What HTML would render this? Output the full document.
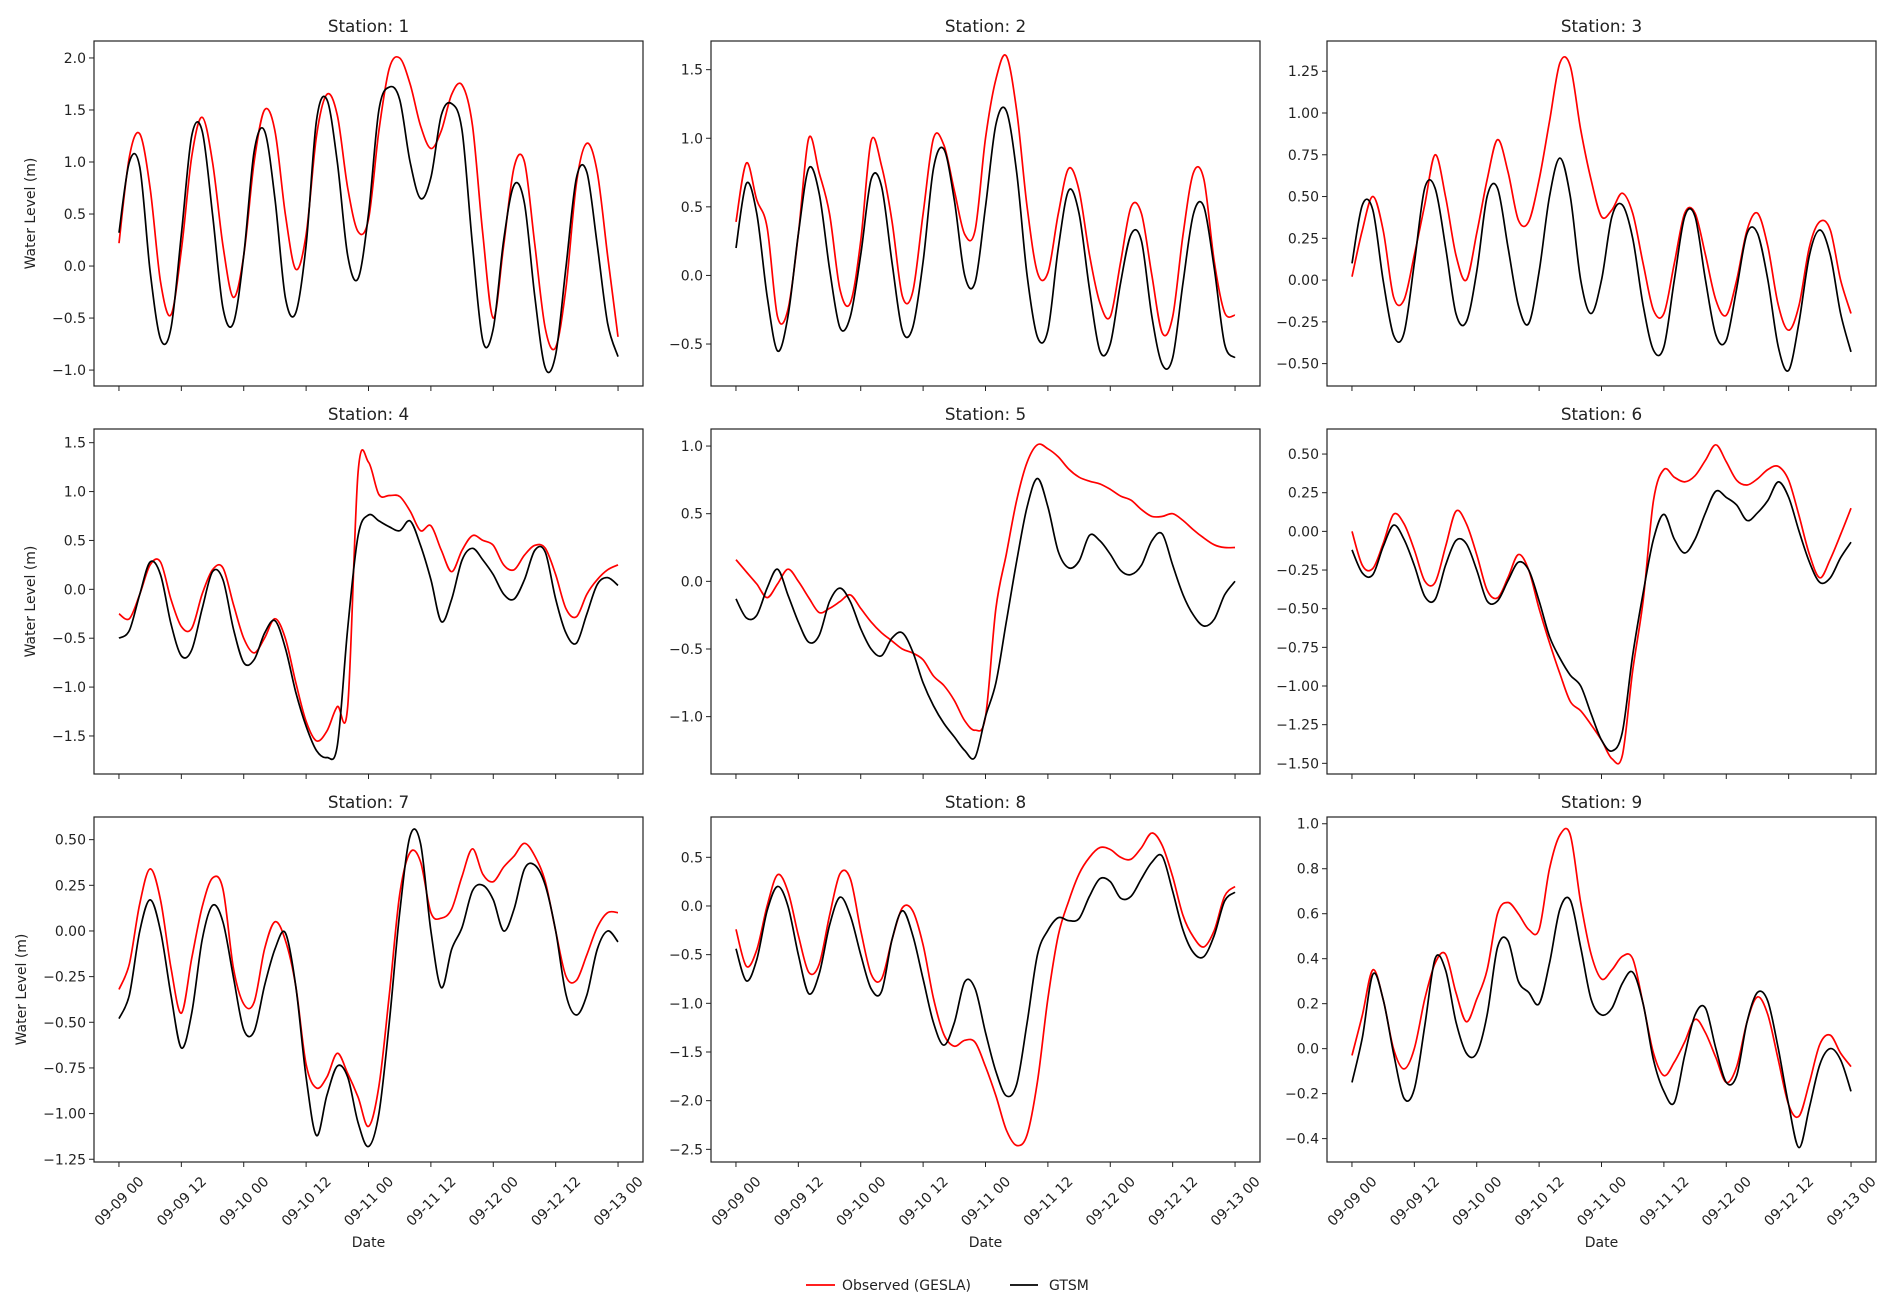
<!DOCTYPE html>
<html>
<head>
<meta charset="utf-8">
<style>
html,body{margin:0;padding:0;background:#fff;}
svg{display:block;}
text{font-family:"DejaVu Sans","Liberation Sans",sans-serif;fill:#222;}
</style>
</head>
<body>
<svg id="fig" width="1892" height="1312" viewBox="0 0 1892 1312" xmlns="http://www.w3.org/2000/svg">
  <rect x="0" y="0" width="1892" height="1312" fill="#fff"/>
  <g>
    <line x1="806" y1="1285" x2="835" y2="1285" stroke="#ff0000" stroke-width="1.8"/>
    <text x="842" y="1290" font-size="14">Observed (GESLA)</text>
    <line x1="1010" y1="1285" x2="1038" y2="1285" stroke="#000" stroke-width="1.8"/>
    <text x="1049" y="1290" font-size="14">GTSM</text>
  </g>
</svg>
<script>
const hours = [0,2,4,6,8,10,12,14,16,18,20,22,24,26,28,30,32,34,36,38,40,42,44,46,48,50,52,54,56,58,60,62,64,66,68,70,72,74,76,78,80,82,84,86,88,90,92,94,96];
const xTickHours = [0,12,24,36,48,60,72,84,96];
const xTickLabels = ["09-09 00","09-09 12","09-10 00","09-10 12","09-11 00","09-11 12","09-12 00","09-12 12","09-13 00"];

const obs1 = [0.22,1.05,1.27,0.75,-0.15,-0.47,0.15,1.05,1.43,1.0,0.2,-0.3,0.1,1.0,1.5,1.3,0.5,-0.03,0.3,1.25,1.65,1.45,0.75,0.33,0.45,1.3,1.9,2.0,1.75,1.35,1.13,1.3,1.65,1.74,1.35,0.3,-0.5,0.2,0.95,1.0,0.2,-0.6,-0.78,-0.2,0.8,1.18,0.9,0.1,-0.68];
const gtsm1 = [0.32,1.0,0.95,-0.05,-0.7,-0.6,0.3,1.25,1.3,0.5,-0.4,-0.55,0.1,1.1,1.3,0.65,-0.3,-0.45,0.2,1.4,1.6,1.0,0.1,-0.12,0.5,1.5,1.72,1.6,1.0,0.65,0.85,1.45,1.56,1.3,0.2,-0.72,-0.6,0.25,0.78,0.6,-0.3,-0.98,-0.85,0.0,0.85,0.9,0.2,-0.55,-0.87];
const obs2 = [0.39,0.82,0.55,0.35,-0.3,-0.25,0.3,1.0,0.75,0.45,-0.1,-0.2,0.25,0.98,0.8,0.4,-0.15,-0.12,0.45,1.0,0.95,0.62,0.3,0.33,1.0,1.43,1.6,1.2,0.5,0.02,0.02,0.45,0.78,0.62,0.15,-0.2,-0.3,0.1,0.5,0.45,0.0,-0.42,-0.3,0.3,0.75,0.7,0.1,-0.27,-0.29];
const gtsm2 = [0.2,0.67,0.45,-0.15,-0.55,-0.3,0.3,0.78,0.6,0.05,-0.38,-0.3,0.15,0.7,0.65,0.1,-0.4,-0.38,0.1,0.78,0.92,0.55,0.0,-0.05,0.5,1.1,1.2,0.75,0.0,-0.45,-0.4,0.2,0.62,0.45,-0.1,-0.55,-0.5,-0.05,0.3,0.25,-0.3,-0.65,-0.6,-0.05,0.45,0.5,0.05,-0.5,-0.6];
const obs3 = [0.02,0.3,0.5,0.3,-0.1,-0.12,0.15,0.45,0.75,0.5,0.15,0.0,0.28,0.6,0.84,0.65,0.36,0.35,0.6,0.95,1.3,1.28,0.9,0.6,0.38,0.42,0.52,0.4,0.1,-0.18,-0.2,0.1,0.4,0.4,0.15,-0.12,-0.21,0.0,0.3,0.4,0.2,-0.15,-0.3,-0.15,0.2,0.35,0.3,0.0,-0.2];
const gtsm3 = [0.1,0.45,0.42,0.0,-0.33,-0.32,0.1,0.55,0.55,0.2,-0.2,-0.25,0.05,0.5,0.55,0.2,-0.15,-0.26,0.05,0.5,0.73,0.5,0.0,-0.2,0.0,0.38,0.45,0.25,-0.15,-0.42,-0.4,0.0,0.38,0.38,0.0,-0.33,-0.36,-0.05,0.28,0.28,0.0,-0.4,-0.54,-0.25,0.15,0.3,0.15,-0.2,-0.43];
const obs4 = [-0.25,-0.3,-0.05,0.25,0.28,-0.1,-0.38,-0.4,-0.05,0.2,0.22,-0.15,-0.5,-0.65,-0.5,-0.3,-0.5,-0.95,-1.35,-1.55,-1.45,-1.2,-1.2,1.2,1.3,0.97,0.96,0.95,0.8,0.6,0.65,0.4,0.18,0.4,0.55,0.5,0.45,0.25,0.2,0.35,0.45,0.42,0.15,-0.2,-0.28,-0.05,0.1,0.2,0.25];
const gtsm4 = [-0.5,-0.42,-0.05,0.28,0.15,-0.35,-0.68,-0.62,-0.2,0.18,0.1,-0.4,-0.75,-0.72,-0.45,-0.32,-0.6,-1.05,-1.4,-1.65,-1.72,-1.6,-0.4,0.55,0.76,0.7,0.64,0.6,0.7,0.45,0.1,-0.33,-0.1,0.3,0.42,0.3,0.15,-0.05,-0.1,0.1,0.4,0.38,-0.1,-0.45,-0.55,-0.25,0.05,0.12,0.04];
const obs5 = [0.16,0.07,-0.02,-0.12,-0.02,0.09,0.0,-0.12,-0.23,-0.2,-0.15,-0.1,-0.2,-0.3,-0.38,-0.44,-0.5,-0.53,-0.58,-0.7,-0.77,-0.88,-1.03,-1.1,-1.0,-0.2,0.2,0.6,0.88,1.01,0.98,0.92,0.83,0.77,0.74,0.72,0.68,0.63,0.6,0.53,0.48,0.48,0.5,0.45,0.38,0.32,0.27,0.25,0.25];
const gtsm5 = [-0.13,-0.27,-0.25,-0.05,0.09,-0.1,-0.3,-0.45,-0.4,-0.15,-0.05,-0.15,-0.35,-0.5,-0.55,-0.42,-0.38,-0.52,-0.75,-0.92,-1.05,-1.15,-1.25,-1.3,-1.0,-0.75,-0.3,0.15,0.55,0.76,0.55,0.22,0.1,0.15,0.34,0.3,0.2,0.08,0.05,0.12,0.3,0.35,0.12,-0.1,-0.25,-0.33,-0.28,-0.1,0.0];
const obs6 = [0.0,-0.22,-0.24,-0.08,0.11,0.05,-0.12,-0.32,-0.33,-0.1,0.13,0.05,-0.15,-0.38,-0.43,-0.3,-0.15,-0.25,-0.5,-0.72,-0.92,-1.1,-1.16,-1.25,-1.35,-1.47,-1.45,-0.9,-0.45,0.2,0.4,0.35,0.32,0.36,0.46,0.56,0.45,0.33,0.3,0.34,0.4,0.42,0.33,0.1,-0.15,-0.3,-0.18,-0.02,0.15];
const gtsm6 = [-0.12,-0.27,-0.28,-0.1,0.04,-0.05,-0.22,-0.42,-0.44,-0.22,-0.06,-0.08,-0.25,-0.45,-0.45,-0.32,-0.2,-0.25,-0.45,-0.68,-0.82,-0.93,-1.0,-1.18,-1.35,-1.42,-1.3,-0.8,-0.4,-0.05,0.11,-0.05,-0.14,-0.05,0.12,0.26,0.22,0.17,0.07,0.12,0.2,0.32,0.22,0.0,-0.2,-0.33,-0.3,-0.17,-0.07];
const obs7 = [-0.32,-0.18,0.15,0.34,0.17,-0.2,-0.45,-0.15,0.13,0.29,0.23,-0.2,-0.4,-0.39,-0.1,0.05,-0.05,-0.3,-0.73,-0.86,-0.8,-0.67,-0.78,-0.91,-1.07,-0.85,-0.35,0.2,0.43,0.38,0.1,0.07,0.12,0.3,0.45,0.31,0.27,0.35,0.41,0.48,0.41,0.27,0.0,-0.25,-0.27,-0.13,0.02,0.1,0.1];
const gtsm7 = [-0.48,-0.35,0.0,0.17,0.0,-0.35,-0.64,-0.45,-0.05,0.14,0.05,-0.25,-0.54,-0.55,-0.3,-0.1,-0.01,-0.3,-0.8,-1.12,-0.9,-0.74,-0.8,-1.05,-1.18,-1.0,-0.5,0.1,0.52,0.48,0.0,-0.31,-0.1,0.02,0.22,0.25,0.17,0.0,0.12,0.34,0.36,0.25,0.0,-0.35,-0.46,-0.35,-0.1,0.0,-0.06];
const obs8 = [-0.24,-0.62,-0.45,0.0,0.32,0.15,-0.3,-0.68,-0.6,-0.1,0.33,0.28,-0.25,-0.7,-0.75,-0.35,-0.02,-0.05,-0.4,-0.95,-1.32,-1.44,-1.38,-1.4,-1.65,-1.95,-2.3,-2.46,-2.35,-1.8,-0.95,-0.3,0.05,0.33,0.5,0.6,0.58,0.5,0.48,0.6,0.75,0.62,0.3,-0.1,-0.32,-0.42,-0.25,0.1,0.2];
const gtsm8 = [-0.44,-0.77,-0.55,-0.05,0.2,0.0,-0.5,-0.9,-0.7,-0.2,0.09,-0.1,-0.5,-0.85,-0.88,-0.35,-0.05,-0.3,-0.75,-1.2,-1.43,-1.2,-0.78,-0.85,-1.3,-1.7,-1.95,-1.83,-1.2,-0.5,-0.25,-0.12,-0.15,-0.13,0.1,0.28,0.25,0.08,0.1,0.28,0.45,0.51,0.15,-0.25,-0.48,-0.52,-0.3,0.05,0.14];
const obs9 = [-0.03,0.15,0.35,0.22,0.0,-0.09,0.0,0.22,0.38,0.42,0.25,0.12,0.22,0.35,0.6,0.65,0.6,0.53,0.53,0.8,0.95,0.95,0.65,0.42,0.31,0.35,0.41,0.4,0.2,-0.02,-0.12,-0.06,0.03,0.13,0.07,-0.04,-0.15,-0.08,0.12,0.23,0.15,-0.05,-0.25,-0.3,-0.15,0.02,0.06,-0.02,-0.08];
const gtsm9 = [-0.15,0.05,0.33,0.22,-0.02,-0.22,-0.18,0.1,0.4,0.35,0.12,-0.02,-0.02,0.15,0.45,0.48,0.3,0.25,0.2,0.38,0.62,0.66,0.45,0.22,0.15,0.18,0.29,0.34,0.2,-0.05,-0.19,-0.24,-0.03,0.15,0.18,0.0,-0.15,-0.12,0.12,0.25,0.21,0.0,-0.25,-0.44,-0.26,-0.07,0.0,-0.05,-0.19];

const yTicks1 = [-1.0,-0.5,0.0,0.5,1.0,1.5,2.0];
const yTicks2 = [-0.5,0.0,0.5,1.0,1.5];
const yTicks3 = [-0.5,-0.25,0.0,0.25,0.5,0.75,1.0,1.25];
const yTicks4 = [-1.5,-1.0,-0.5,0.0,0.5,1.0,1.5];
const yTicks5 = [-1.0,-0.5,0.0,0.5,1.0];
const yTicks6 = [-1.5,-1.25,-1.0,-0.75,-0.5,-0.25,0.0,0.25,0.5];
const yTicks7 = [-1.25,-1.0,-0.75,-0.5,-0.25,0.0,0.25,0.5];
const yTicks8 = [-2.5,-2.0,-1.5,-1.0,-0.5,0.0,0.5];
const yTicks9 = [-0.4,-0.2,0.0,0.2,0.4,0.6,0.8,1.0];

const panels = [
  {title:"Station: 1", obs:obs1, gtsm:gtsm1, ymin:-1.153, ymax:2.163, ticks:yTicks1, dec:1},
  {title:"Station: 2", obs:obs2, gtsm:gtsm2, ymin:-0.806, ymax:1.709, ticks:yTicks2, dec:1},
  {title:"Station: 3", obs:obs3, gtsm:gtsm3, ymin:-0.634, ymax:1.431, ticks:yTicks3, dec:2},
  {title:"Station: 4", obs:obs4, gtsm:gtsm4, ymin:-1.889, ymax:1.64, ticks:yTicks4, dec:1},
  {title:"Station: 5", obs:obs5, gtsm:gtsm5, ymin:-1.424, ymax:1.126, ticks:yTicks5, dec:1},
  {title:"Station: 6", obs:obs6, gtsm:gtsm6, ymin:-1.569, ymax:0.662, ticks:yTicks6, dec:2},
  {title:"Station: 7", obs:obs7, gtsm:gtsm7, ymin:-1.265, ymax:0.624, ticks:yTicks7, dec:2},
  {title:"Station: 8", obs:obs8, gtsm:gtsm8, ymin:-2.63, ymax:0.914, ticks:yTicks8, dec:1},
  {title:"Station: 9", obs:obs9, gtsm:gtsm9, ymin:-0.504, ymax:1.03, ticks:yTicks9, dec:1}
];

const NS = "http://www.w3.org/2000/svg";
const svg = document.getElementById("fig");
const colLeft = [94, 711, 1327];
const rowTop = [41, 429, 817];
const W = 549, H = 345;
const XMIN = -4.8, XMAX = 100.8;

function el(tag, attrs, parent) {
  const e = document.createElementNS(NS, tag);
  for (const k in attrs) e.setAttribute(k, attrs[k]);
  parent.appendChild(e);
  return e;
}
function fmt(v, d) {
  const s = Math.abs(v).toFixed(d);
  return (v < 0 ? "\u2212" : "") + s;
}
function smoothPath(pts) {
  let d = "M" + pts[0][0].toFixed(1) + "," + pts[0][1].toFixed(1);
  for (let i = 0; i < pts.length - 1; i++) {
    const p0 = pts[Math.max(0, i - 1)], p1 = pts[i], p2 = pts[i + 1], p3 = pts[Math.min(pts.length - 1, i + 2)];
    const c1x = p1[0] + (p2[0] - p0[0]) / 6, c1y = p1[1] + (p2[1] - p0[1]) / 6;
    const c2x = p2[0] - (p3[0] - p1[0]) / 6, c2y = p2[1] - (p3[1] - p1[1]) / 6;
    d += " C" + c1x.toFixed(1) + "," + c1y.toFixed(1) + " " + c2x.toFixed(1) + "," + c2y.toFixed(1) + " " + p2[0].toFixed(1) + "," + p2[1].toFixed(1);
  }
  return d;
}

panels.forEach((p, i) => {
  const col = i % 3, row = Math.floor(i / 3);
  const L = colLeft[col], T = rowTop[row];
  const xs = h => L + (h - XMIN) / (XMAX - XMIN) * W;
  const ys = v => T + (p.ymax - v) / (p.ymax - p.ymin) * H;
  const n = i + 1;

  const g = el("g", {}, svg);
  
  

  const title = el("text", {x: L + W / 2, y: T - 9, "font-size": 16.8, "text-anchor": "middle"}, g);
  title.textContent = p.title;
  
  

  const cp = el("clipPath", {id: "clip" + n}, g);
  el("rect", {x: L, y: T, width: W, height: H}, cp);

  p.ticks.forEach(t => {
    const y = ys(t);
    const tk = el("line", {x1: L - 5, x2: L, y1: y, y2: y, stroke: "#222", "stroke-width": 1}, g);
    
    
    const lb = el("text", {x: L - 8, y: y + 5, "font-size": 14, "text-anchor": "end"}, g);
    lb.textContent = fmt(t, p.dec);
    
    
  });

  xTickHours.forEach((h, k) => {
    const x = xs(h);
    const tk = el("line", {x1: x, x2: x, y1: T + H, y2: T + H + 5, stroke: "#222", "stroke-width": 1}, g);
    
    
    if (row === 2) {
      const cy = T + H + 39;
      const lb = el("text", {x: x, y: cy + 5, "font-size": 14, "text-anchor": "middle", transform: "rotate(-45 " + x + " " + cy + ")"}, g);
      lb.textContent = xTickLabels[k];
      
      
    }
  });

  const mkLine = (arr, color, name) => {
    const pts = hours.map((h, j) => [xs(h), ys(arr[j])]);
    const pl = el("path", {d: smoothPath(pts), fill: "none", stroke: color, "stroke-width": 1.7, "stroke-linejoin": "round", "clip-path": "url(#clip" + n + ")"}, g);
    
    
  };
  mkLine(p.obs, "#ff0000", "observed");
  mkLine(p.gtsm, "#000000", "gtsm");

  const fr = el("rect", {x: L, y: T, width: W, height: H, fill: "none", stroke: "#222", "stroke-width": 1.2}, g);
  
  

  if (col === 0) {
    const yx = row === 2 ? 26 : 35;
    const cy = T + H / 2;
    const yl = el("text", {x: yx, y: cy, "font-size": 14, "text-anchor": "middle", transform: "rotate(-90 " + yx + " " + cy + ")"}, g);
    yl.textContent = "Water Level (m)";
    
    
  }
  if (row === 2) {
    const xl = el("text", {x: L + W / 2, y: 1247, "font-size": 14, "text-anchor": "middle"}, g);
    xl.textContent = "Date";
    
    
  }
});
</script>
</body>
</html>
